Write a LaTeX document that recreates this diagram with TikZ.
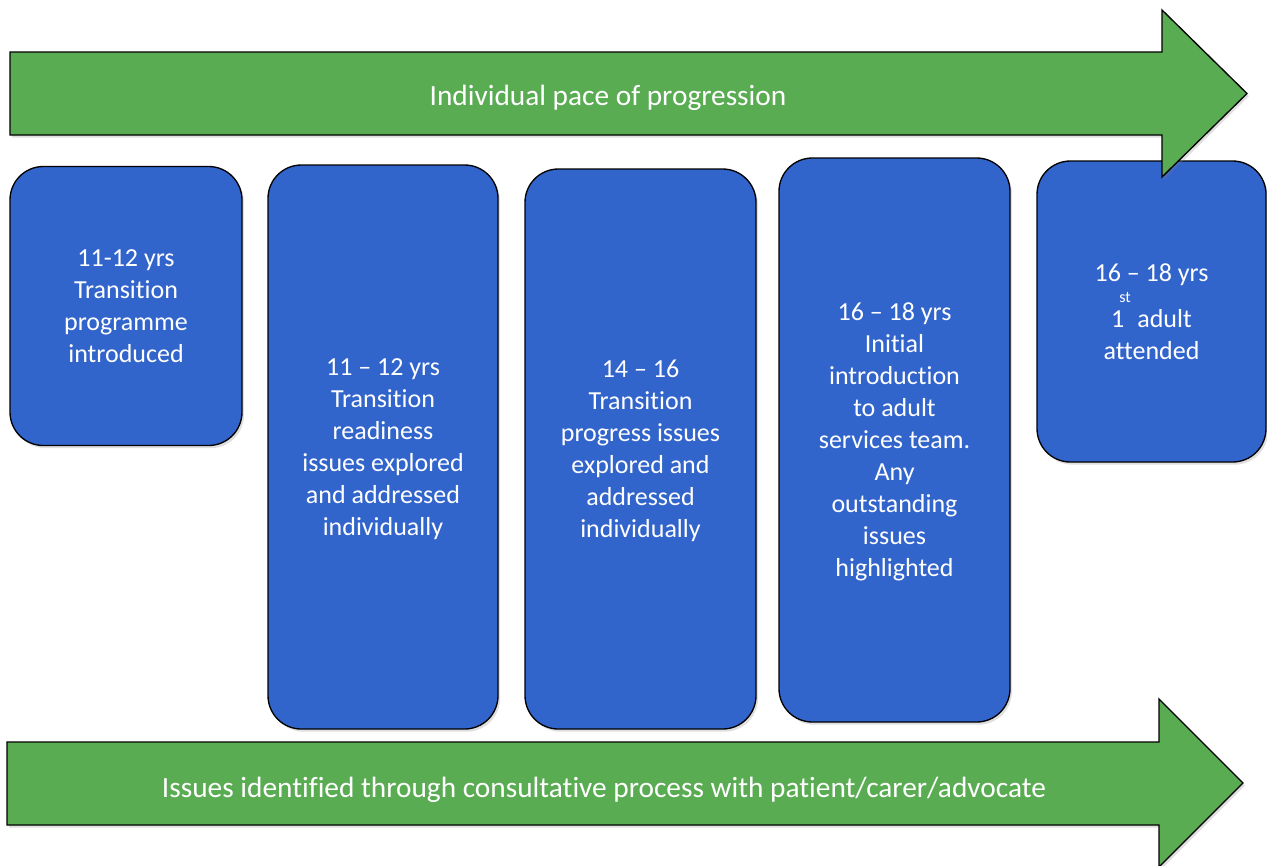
\documentclass[tikz,border=0pt]{standalone}
\usepackage{fontspec}
\setmainfont{Carlito}[Ligatures={TeX,NoCommon}]
\usetikzlibrary{shadows}

\definecolor{stageblue}{RGB}{50,101,204}
\definecolor{bandgreen}{RGB}{90,172,83}

\tikzset{
  stage/.style={draw=black, line width=1pt, fill=stageblue,
    rounded corners=25pt, text=white, align=center,
    font=\fontsize{19.5}{24}\selectfont, text depth=0pt,
    drop shadow={opacity=0.25, shadow xshift=1.5pt, shadow yshift=-2pt}},
  band/.style={draw=black, line width=1pt, fill=bandgreen,
    drop shadow={opacity=0.25, shadow xshift=1.5pt, shadow yshift=-2pt}},
  bandtext/.style={text=white, font=\fontsize{22}{24}\selectfont}
}

\begin{document}
\begin{tikzpicture}[x=0.75pt, y=-0.75pt]
  \useasboundingbox (0,0) rectangle (1267,865);

  % the five stages
  \node[stage, minimum width=174pt, minimum height=209.25pt]
    (s1) at (126,306) {11-12 yrs\\Transition\\programme\\introduced};
  \node[stage, minimum width=172.5pt, minimum height=423pt]
    (s2) at (383,447) {11 – 12 yrs\\Transition\\readiness\\issues explored\\and addressed\\individually};
  \node[stage, minimum width=173.25pt, minimum height=420pt]
    (s3) at (640.5,449) {14 – 16\\Transition\\progress issues\\explored and\\addressed\\individually};
  \node[stage, minimum width=173.25pt, minimum height=423pt]
    (s4) at (894.5,440) {16 – 18 yrs\\Initial\\introduction\\to adult\\services team.\\Any\\outstanding\\issues\\highlighted};
  \node[stage, minimum width=171.75pt, minimum height=225.75pt]
    (s5) at (1151.5,311.5) {16 – 18 yrs\\[11pt]1\hspace{0.5em}adult\\attended};
  \node[text=white, font=\fontsize{12}{12}\selectfont, inner sep=0pt]
    (s5sup) at (1125,297) {st};

  % top band
  \draw[band]
    (10,52) -- (1162,52) -- (1162,10) -- (1247,93.5)
    -- (1162,177) -- (1162,135) -- (10,135) -- cycle;
  \node[bandtext] (pace) at (608,98) {Individual pace of progression};

  % bottom band
  \draw[band]
    (7,742) -- (1159,742) -- (1159,699) -- (1243,783)
    -- (1159,867) -- (1159,825) -- (7,825) -- cycle;
  \node[bandtext] (issues) at (604,790)
    {Issues identified through consultative process with patient/carer/advocate};
\end{tikzpicture}
\end{document}
